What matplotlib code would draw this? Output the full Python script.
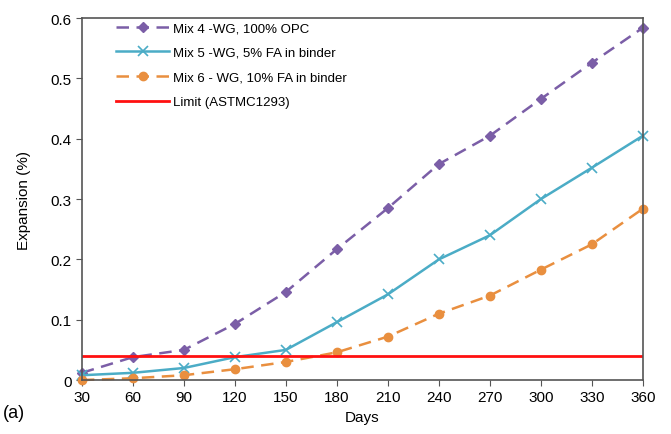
import matplotlib
matplotlib.use('Agg')
from matplotlib import pyplot as plt

plt.rcParams['font.family'] = ['Liberation Sans', 'DejaVu Sans']

days = [30, 60, 90, 120, 150, 180, 210, 240, 270, 300, 330, 360]
mix4 = [0.012, 0.038, 0.050, 0.093, 0.146, 0.217, 0.285, 0.358, 0.405, 0.466, 0.526, 0.584]
mix5 = [0.008, 0.012, 0.020, 0.038, 0.050, 0.096, 0.142, 0.200, 0.240, 0.300, 0.352, 0.405]
mix6 = [0.000, 0.003, 0.008, 0.018, 0.030, 0.046, 0.072, 0.110, 0.140, 0.183, 0.225, 0.284]
limit = 0.04

fig = plt.figure(figsize=(6.71, 4.35), dpi=100)
ax = fig.add_axes([0.122, 0.124, 0.836, 0.832])

ax.plot(days, mix4, color='#7b5ea7', linestyle=(0, (5, 3)), linewidth=1.8,
        marker='D', markersize=5.5, clip_on=False, label='Mix 4 -WG, 100% OPC')
ax.plot(days, mix5, color='#4bacc6', linestyle='-', linewidth=1.8,
        marker='x', markersize=6.5, markeredgewidth=1.2, clip_on=False,
        label='Mix 5 -WG, 5% FA in binder')
ax.plot(days, mix6, color='#e98f3f', linestyle=(0, (5, 3)), linewidth=1.8,
        marker='o', markersize=6, clip_on=False,
        label='Mix 6 - WG, 10% FA in binder')
ax.axhline(limit, color='#ff1010', linewidth=2, label='Limit (ASTMC1293)')

ax.set_xlim(30, 360)
ax.set_ylim(0, 0.6)
ax.set_xticks(days)
ax.set_yticks([0, 0.1, 0.2, 0.3, 0.4, 0.5, 0.6])
ax.set_yticklabels(['0', '0.1', '0.2', '0.3', '0.4', '0.5', '0.6'])
ax.tick_params(labelsize=11, direction='out', length=4, color='#555555')
for s in ax.spines.values():
    s.set_color('#555555')
    s.set_linewidth(1.2)

ax.set_xlabel('Days', fontsize=11, labelpad=4)
ax.set_ylabel('Expansion (%)', fontsize=11, labelpad=14)
fig.text(0.005, 0.04, '(a)', fontsize=13)

ax.legend(loc='upper left', bbox_to_anchor=(0.045, 1.015), frameon=False,
          fontsize=9.5, handlelength=4, handletextpad=0.3,
          labelspacing=0.95, borderaxespad=0.3)

fig.savefig('out.png', dpi=100)
